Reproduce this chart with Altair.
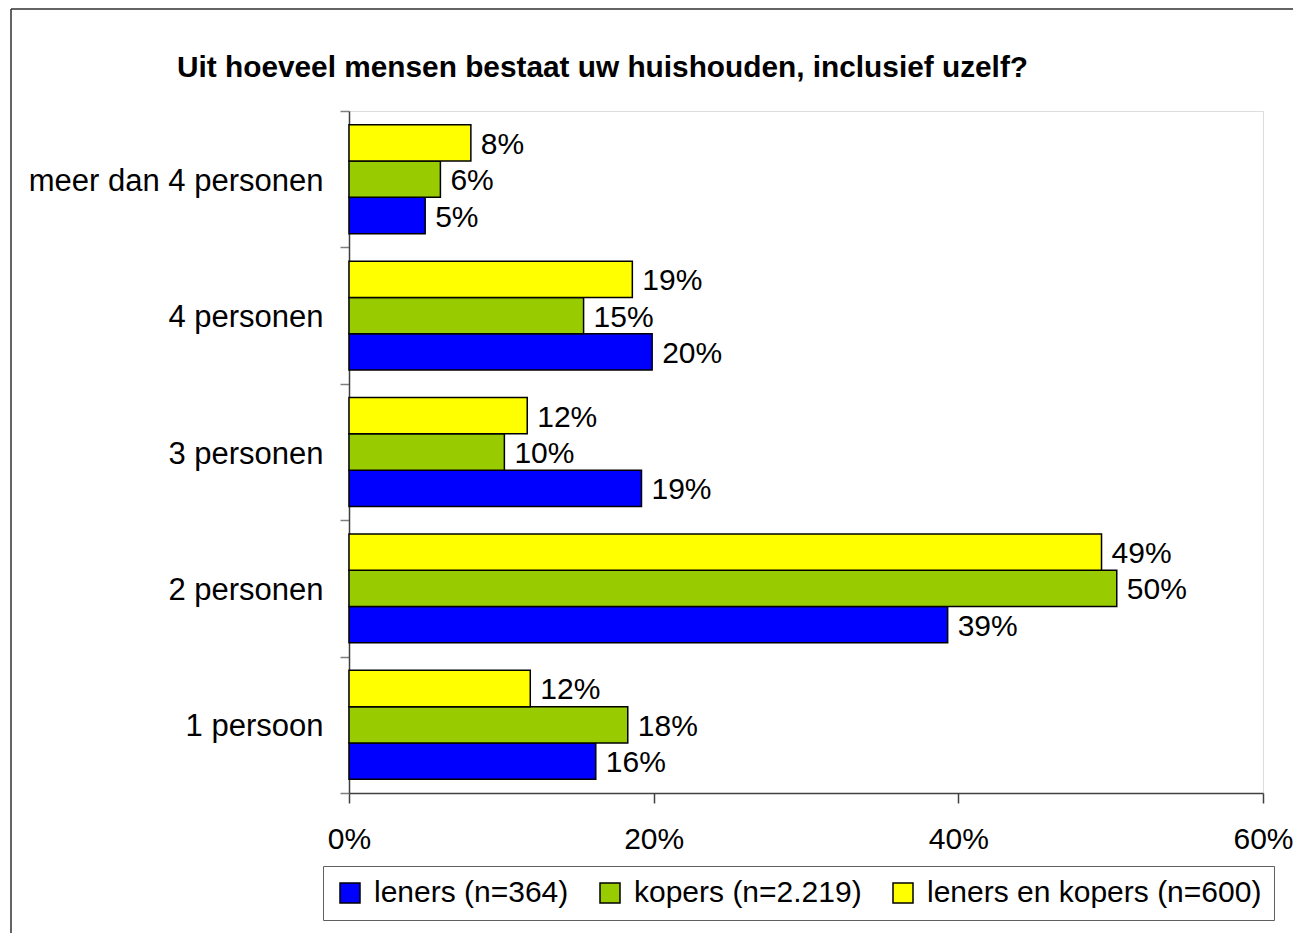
import altair as alt
import pandas as pd

categories = ["meer dan 4 personen", "4 personen", "3 personen", "2 personen", "1 persoon"]
series = ["leners (n=364)", "kopers (n=2.219)", "leners en kopers (n=600)"]
leners = [5.0, 19.9, 19.2, 39.3, 16.2]
kopers = [6.0, 15.4, 10.2, 50.4, 18.3]
beide = [8.0, 18.6, 11.7, 49.4, 11.9]
colors = ["#0000FF", "#99CC00", "#FFFF00"]
x_ticks = [0, 20, 40, 60]
title_text = "Uit hoeveel mensen bestaat uw huishouden, inclusief uzelf?"

rows = []
for s, vals in zip(series, [leners, kopers, beide]):
    for c, v in zip(categories, vals):
        rows.append({"cat": c, "serie": s, "v": v, "label": f"{round(v)}%"})
df = pd.DataFrame(rows)

FONT = "Liberation Sans"
W, H = 914, 682

y_enc = alt.Y("cat:N", sort=categories,
              scale=alt.Scale(paddingInner=0, paddingOuter=0),
              axis=alt.Axis(title=None, labelFontSize=31, labelFont=FONT, labelColor="black",
                            labelPadding=17, tickSize=9, tickColor="#808080", tickWidth=1.5,
                            domainColor="#404040", domainWidth=1.5, tickBand="extent",
                            labelLimit=500, labelOffset=2))
yoff = alt.YOffset("serie:N", sort=[series[2], series[1], series[0]],
                   scale=alt.Scale(paddingInner=0, paddingOuter=0.378))
x_enc = alt.X("v:Q", scale=alt.Scale(domain=[0, 60]),
              axis=alt.Axis(title=None, values=x_ticks, labelExpr="datum.value + '%'",
                            grid=False, labelFontSize=30, labelFont=FONT, labelColor="black",
                            tickSize=10, tickColor="#404040", tickWidth=1.5, labelFlush=False,
                            domainColor="#404040", domainWidth=1.5, labelPadding=21))

base = alt.Chart(df)
bars = base.mark_bar(stroke="black", strokeWidth=1.5, opacity=1).encode(
    y=y_enc, yOffset=yoff, x=x_enc,
    color=alt.Color("serie:N", scale=alt.Scale(domain=series, range=colors),
                    legend=alt.Legend(title=None, orient="none", legendX=-26, legendY=755,
                                      direction="horizontal", labelFontSize=30, labelFont=FONT,
                                      labelColor="black", symbolType="square", symbolSize=400,
                                      symbolStrokeColor="black", symbolStrokeWidth=1.5,
                                      symbolOpacity=1, labelOffset=9, columnPadding=26,
                                      padding=12, strokeColor="#606060",
                                      labelLimit=500)),
)
texts = base.mark_text(align="left", baseline="middle", dx=10, dy=2, fontSize=30, font=FONT,
                       color="black").encode(
    y=alt.Y("cat:N", sort=categories), yOffset=yoff, x="v:Q", text="label:N")

title_df = pd.DataFrame({"t": [title_text]})
title_mark = alt.Chart(title_df).mark_text(align="left", baseline="alphabetic", fontSize=29.8,
                                            font=FONT, fontWeight="bold", color="black").encode(
    x=alt.value(-172), y=alt.value(-34), text="t:N")

frame_top = alt.Chart(title_df).mark_rule(color="#303030", strokeWidth=1.5).encode(
    x=alt.value(-338), x2=alt.value(1000), y=alt.value(-102))
frame_left = alt.Chart(title_df).mark_rule(color="#303030", strokeWidth=1.5).encode(
    x=alt.value(-338), y=alt.value(-102), y2=alt.value(900))

chart = alt.layer(bars, texts, title_mark, frame_top, frame_left).properties(
    width=W, height=H,
    autosize=alt.AutoSizeParams(type="none"),
    padding={"left": 341, "top": 103, "right": 30, "bottom": 140},
).configure_view(stroke="#808080", strokeWidth=1.5).configure(background="white")

chart.save("out.html", embed_options={"renderer": "svg", "actions": False})
